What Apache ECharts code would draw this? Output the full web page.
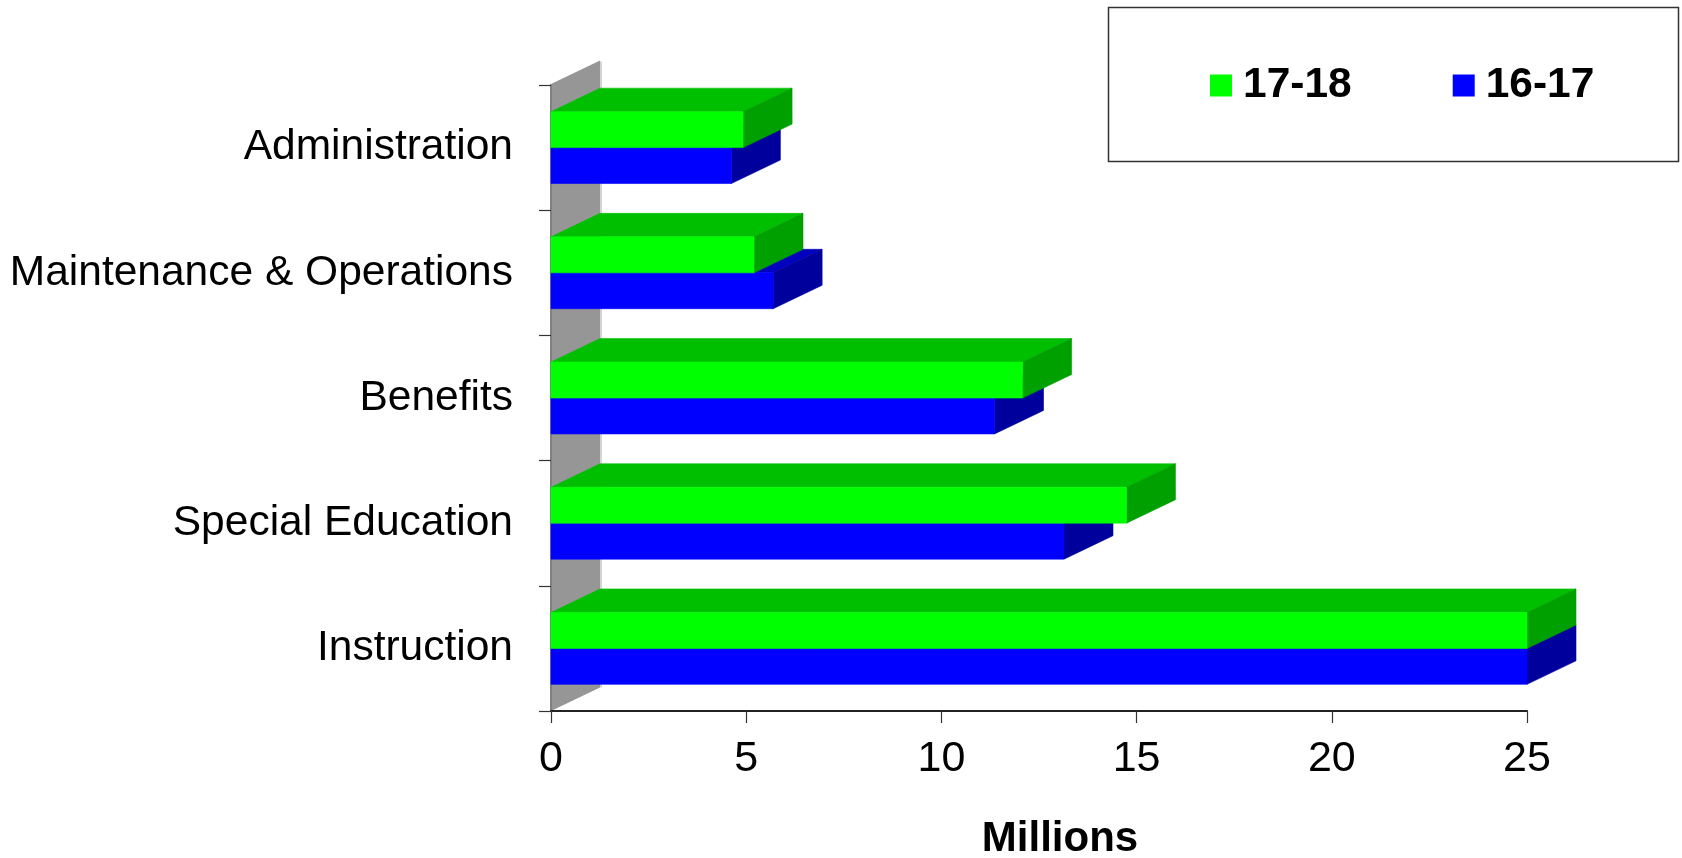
<!DOCTYPE html>
<html>
<head>
<meta charset="utf-8">
<script src="https://cdn.jsdelivr.net/npm/echarts@6/dist/echarts.min.js"></script>
<style>
html,body{margin:0;padding:0;background:#fff;}
#chart{width:1682px;height:858px;}
</style>
</head>
<body>
<div id="chart"></div>
<script>
const categories = ['Instruction', 'Special Education', 'Benefits', 'Maintenance & Operations', 'Administration'];
const seriesNames = ['17-18', '16-17'];
const values1718 = [25, 14.74, 12.08, 5.2, 4.92];
const values1617 = [25, 13.14, 11.36, 5.69, 4.62];
const xMin = 0, xMax = 25, xInterval = 5;

const FONT = 'Arial, "Liberation Sans", sans-serif';
const DX = 49, DY = 23.5;

const palette = {
  '17-18': { front: '#00FF00', top: '#00BF00', side: '#00A000' },
  '16-17': { front: '#0000FF', top: '#0000BF', side: '#00009C' }
};

function poly(points, color) {
  return { type: 'polygon', shape: { points: points }, style: { fill: color, stroke: color, lineWidth: 0.6 } };
}

function makeRender(name, upper) {
  const c = palette[name];
  return function (params, api) {
    const cat = api.value(0);
    const val = api.value(1);
    const p0 = api.coord([0, cat]);
    const p1 = api.coord([val, cat]);
    const bandH = api.size([0, 1])[1];
    const h = bandH * 0.287;
    const cy = p0[1];
    const t = upper ? cy - h : cy;
    const b = t + h;
    const x0 = p0[0], x1 = p1[0];
    return {
      type: 'group',
      children: [
        poly([[x0, t], [x1, t], [x1 + DX, t - DY], [x0 + DX, t - DY]], c.top),
        poly([[x1, t], [x1 + DX, t - DY], [x1 + DX, b - DY], [x1, b]], c.side),
        poly([[x0, t], [x1, t], [x1, b], [x0, b]], c.front)
      ]
    };
  };
}

function renderWall(params, api) {
  const cs = params.coordSys;
  const x = cs.x, y = cs.y, h = cs.height;
  return {
    type: 'group',
    children: [
      { type: 'polygon', shape: { points: [[x, y - 1], [x + DX, y - 1 - DY], [x + DX, y + h - DY], [x, y + h]] },
        style: { fill: '#969696' } },
      { type: 'line', shape: { x1: x + DX + 1, y1: y - DY, x2: x + DX + 1, y2: y + h - DY },
        style: { stroke: '#d4d4d4', lineWidth: 2 } }
    ]
  };
}

const chart = echarts.init(document.getElementById('chart'));
chart.setOption({
  animation: false,
  backgroundColor: '#ffffff',
  textStyle: { fontFamily: FONT },
  grid: { left: 551, top: 85, width: 976, height: 626, containLabel: false },
  xAxis: {
    type: 'value', min: xMin, max: xMax, interval: xInterval,
    axisLine: { show: true, lineStyle: { color: '#222', width: 2 } },
    axisTick: { show: true, length: 12, lineStyle: { color: '#333', width: 1.2 } },
    axisLabel: { fontSize: 43, color: '#000', margin: 27, fontFamily: FONT },
    splitLine: { show: false }
  },
  yAxis: {
    type: 'category', data: categories,
    axisLine: { show: true, lineStyle: { color: '#808080', width: 2 } },
    axisTick: { show: true, length: 12, lineStyle: { color: '#333', width: 1.2 } },
    axisLabel: { fontSize: 42.5, color: '#000', margin: 38, fontFamily: FONT },
    splitLine: { show: false }
  },
  legend: {
    data: ['17-18', '16-17'],
    left: 1210, top: 64, padding: 0,
    icon: 'rect', itemWidth: 22, itemHeight: 22, itemGap: 101,
    selectedMode: false,
    textStyle: { fontSize: 42.5, fontWeight: 'bold', color: '#000', fontFamily: FONT, padding: [0, 0, 0, 6] }
  },
  graphic: [
    { type: 'rect', shape: { x: 1108.5, y: 7.5, width: 570, height: 154 },
      style: { fill: 'none', stroke: '#333', lineWidth: 1.5 }, z: 1 },
    { type: 'text', x: 1060, y: 839,
      style: { text: 'Millions', font: 'bold 42px ' + FONT, fill: '#000', textAlign: 'center', textVerticalAlign: 'middle' } }
  ],
  series: [
    { type: 'custom', name: 'wall', z: -1, renderItem: renderWall, data: [[0, 0]], encode: { x: 1, y: 0 }, silent: true },
    { type: 'custom', name: '16-17', z: 2, itemStyle: { color: '#0000FF' },
      renderItem: makeRender('16-17', false),
      data: values1617.map((v, i) => [i, v]), encode: { x: 1, y: 0 } },
    { type: 'custom', name: '17-18', z: 3, itemStyle: { color: '#00FF00' },
      renderItem: makeRender('17-18', true),
      data: values1718.map((v, i) => [i, v]), encode: { x: 1, y: 0 } }
  ]
});
</script>
</body>
</html>
